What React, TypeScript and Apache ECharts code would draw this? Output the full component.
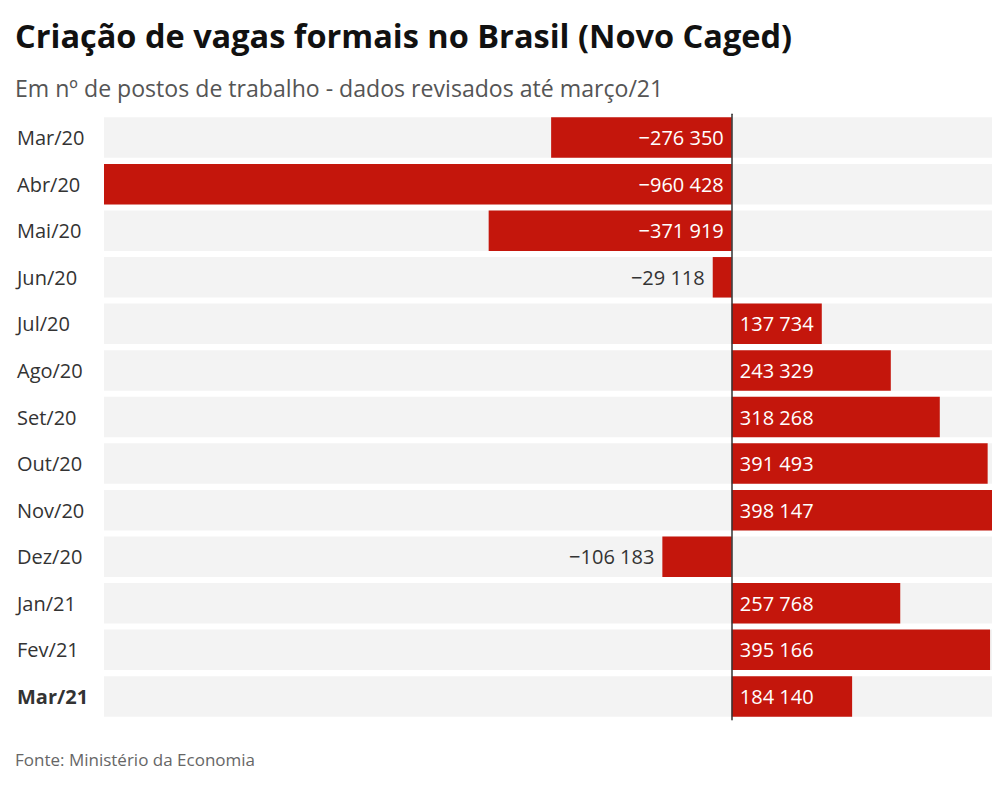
import React, { useEffect, useRef } from "react";
import * as echarts from "echarts";

const categories = ["Mar/20","Abr/20","Mai/20","Jun/20","Jul/20","Ago/20","Set/20","Out/20","Nov/20","Dez/20","Jan/21","Fev/21","Mar/21"];
const values = [-276350,-960428,-371919,-29118,137734,243329,318268,391493,398147,-106183,257768,395166,184140];
const titleText = "Criação de vagas formais no Brasil (Novo Caged)";
const subtitleText = "Em nº de postos de trabalho - dados revisados até março/21";
const sourceText = "Fonte: Ministério da Economia";

const FONT = "'Open Sans', 'Noto Sans', sans-serif";
const RED = "#c4160c";

function fmt(v: number): string {
  const s = Math.abs(v).toString().replace(/\B(?=(\d{3})+(?!\d))/g, " ");
  return (v < 0 ? "\u2212" : "") + s;
}

export default function App() {
  const ref = useRef<HTMLDivElement>(null);
  useEffect(() => {
    if (!ref.current) return;
    const chart = echarts.init(ref.current, undefined, { renderer: "svg" });
    const data = values.map((v) => {
      const small = v < 0 && v > -150000;
      return {
        value: v,
        label: {
          show: true,
          position: v >= 0 ? "insideLeft" : small ? "left" : "insideRight",
          distance: 8,
          color: small ? "#333333" : "#ffffff",
          fontSize: 20,
          fontFamily: FONT,
          formatter: () => fmt(v),
        },
      };
    });
    chart.setOption({
      animation: false,
      backgroundColor: "#ffffff",
      title: [
        { text: titleText, left: 15, top: 19, padding: 0, textStyle: { fontFamily: FONT, fontSize: 32.5, fontWeight: "bold", color: "#111111" } },
        { text: subtitleText, left: 15, top: 76, padding: 0, textStyle: { fontFamily: FONT, fontSize: 23.1, fontWeight: "normal", color: "#555555" } },
        { text: sourceText, left: 15, top: 751, padding: 0, textStyle: { fontFamily: FONT, fontSize: 17, fontWeight: "normal", color: "#666666" } },
      ],
      grid: { left: 104, right: 16, top: 114.3, bottom: 68.3, containLabel: false },
      xAxis: {
        type: "value",
        min: "dataMin",
        max: "dataMax",
        show: false,
        splitLine: { show: false },
      },
      yAxis: {
        type: "category",
        data: categories,
        inverse: true,
        z: 5,
        axisLine: { show: true, onZero: true, lineStyle: { color: "#333333", width: 1.5 } },
        axisTick: { show: false },
        axisLabel: {
          align: "left",
          margin: 87,
          fontSize: 20,
          fontFamily: FONT,
          color: "#333333",
          formatter: (val: string) => (val === "Mar/21" ? "{b|" + val + "}" : val),
          rich: { b: { fontWeight: "bold", fontSize: 20, fontFamily: FONT, color: "#333333" } },
        },
      },
      series: [
        {
          type: "bar",
          data,
          barWidth: 40.5,
          itemStyle: { color: RED },
          showBackground: true,
          backgroundStyle: { color: "#f3f3f3" },
        },
      ],
    });
    return () => chart.dispose();
  }, []);
  return <div ref={ref} style={{ width: 1008, height: 788, marginLeft: -8, marginTop: -8 }} />;
}
